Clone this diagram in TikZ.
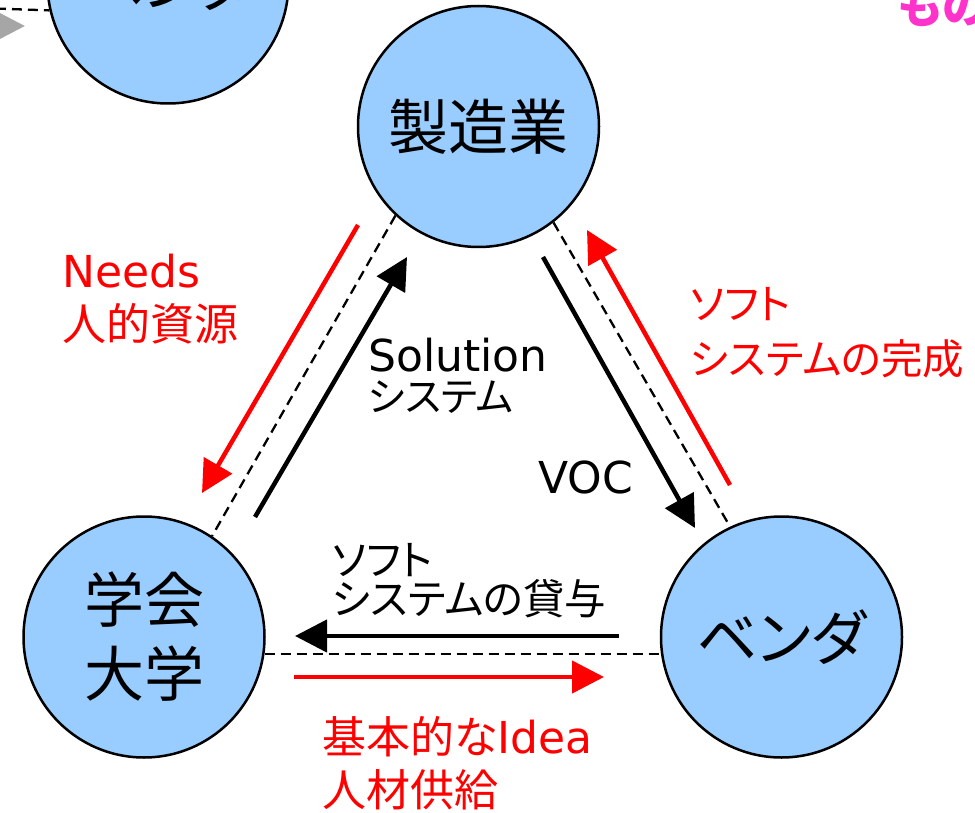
\documentclass[tikz,border=0pt]{standalone}
\usepackage{fontspec}
\setmainfont{DejaVu Sans}
\newfontfamily\jp[CharacterWidth=AlternateProportional]{Noto Sans CJK JP}
\usetikzlibrary{arrows.meta}

\definecolor{partyblue}{HTML}{99CCFF}
\definecolor{headgray}{HTML}{A6A6A6}
\definecolor{pinktext}{HTML}{FF33CC}

\tikzset{
  party/.style={circle, draw, line width=2.5pt, fill=partyblue,
    minimum size=241pt, inner sep=0pt, align=center,
    font=\jp\fontsize{60}{74}\selectfont},
  bond/.style={line width=2.3pt, dash pattern=on 10pt off 6pt},
  flow/.style={line width=4.5pt, -{Triangle[length=32pt,width=32pt]}},
  lbl/.style={inner sep=0pt, align=left, anchor=base west},
}

\begin{document}
\begin{tikzpicture}[x=1pt, y=-1pt]
  \useasboundingbox (0,0) rectangle (975,813);
  \clip (0,0) rectangle (975,813);

  \node[party] (vendtop) at (168,-17)    {ベンダ};
  \node[party] (manu)    at (478.5,126.5) {製造業};
  \node[party] (acad)    at (144,637)    {学会\\大学};
  \node[party] (vend)    at (781.5,637)  {ベンダ};

  \node[lbl, text=pinktext, font=\jp\bfseries\fontsize{46}{46}\selectfont]
    (mono) at (898,24) {もの};

  % links between the parties
  \coordinate (offL) at (-20,8);
  \draw[bond] (offL) -- (vendtop.193.5);
  \draw[bond] (manu.227) -- (acad.56);
  \draw[bond] (manu.-52) -- (vend.115);
  \draw[bond] (acad.-8)  -- (vend.188);

  % flows
  \coordinate (grayS)  at (-60,26);
  \coordinate (grayE)  at (25,26);
  \coordinate (needsS) at (358,225);
  \coordinate (needsE) at (202,493);
  \coordinate (solS)   at (255,517);
  \coordinate (solE)   at (407,257);
  \coordinate (vocS)   at (543,257);
  \coordinate (vocE)   at (695,528);
  \coordinate (doneS)  at (730,485);
  \coordinate (doneE)  at (587,230);
  \coordinate (lendS)  at (619,636);
  \coordinate (lendE)  at (295,636);
  \coordinate (ideaS)  at (294,677);
  \coordinate (ideaE)  at (604,677);

  \draw[flow, headgray] (grayS) -- (grayE);
  \draw[flow, red]   (needsS) -- (needsE);
  \draw[flow]        (solS)   -- (solE);
  \draw[flow]        (vocS)   -- (vocE);
  \draw[flow, red]   (doneS)  -- (doneE);
  \draw[flow]        (lendS)  -- (lendE);
  \draw[flow, red]   (ideaS)  -- (ideaE);

  % labels (base = last line)
  \node[lbl, text=red, font=\fontsize{44}{53}\selectfont] (needs) at (62,340)
    {Needs\\{\jp 人的資源}};
  \node[lbl, font=\fontsize{44}{40}\selectfont] (sol) at (368,411)
    {Solution\\{\jp\fontsize{40}{40}\selectfont システム}};
  \node[lbl, text=red, font=\jp\fontsize{41.5}{55}\selectfont] (done) at (690,374)
    {ソフト\\システムの完成};
  \node[lbl, font=\fontsize{44}{44}\selectfont] (voc) at (538,493) {VOC};
  \node[lbl, font=\jp\fontsize{41.5}{39}\selectfont] (lend) at (332,614)
    {ソフト\\システムの貸与};
  \node[lbl, text=red, font=\fontsize{44}{53}\selectfont] (idea) at (322,806)
    {{\jp 基本的な}Idea\\{\jp 人材供給}};
\end{tikzpicture}
\end{document}
